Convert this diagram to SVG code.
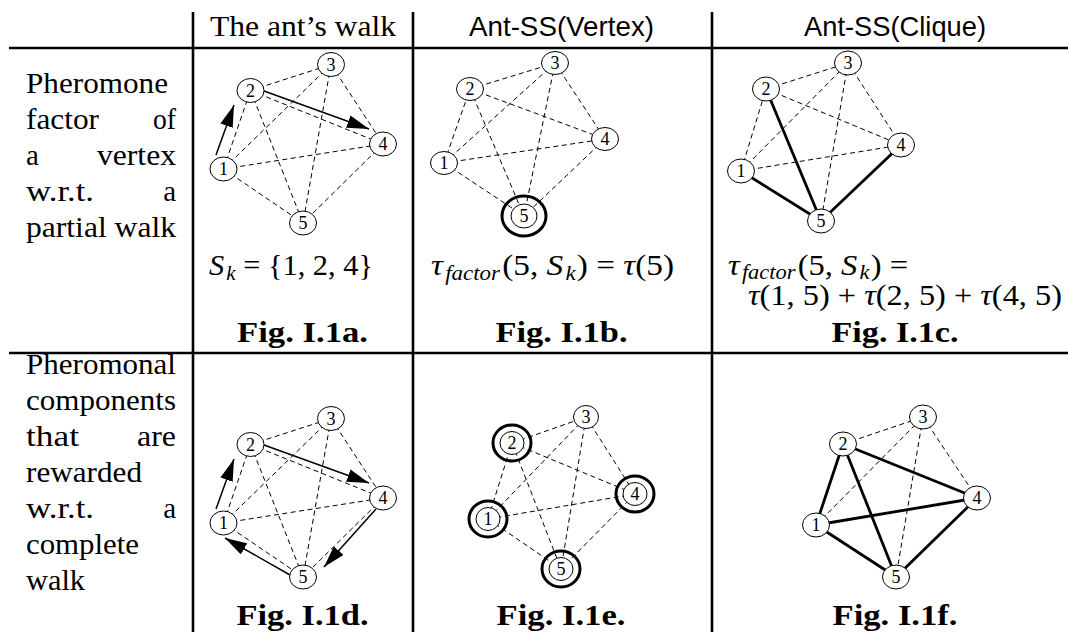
<svg xmlns="http://www.w3.org/2000/svg" width="1068" height="632" viewBox="0 0 1068 632">
<defs>
<style>
.rule{stroke:#000;stroke-width:2.6;fill:none}
.d{stroke:#000;stroke-width:1;stroke-dasharray:5 3.5;fill:none}
.t{stroke:#000;stroke-width:2.8;fill:none}
.a{stroke:#000;stroke-width:1.5;fill:none;marker-end:url(#ah)}
.node ellipse{fill:#fff;stroke:#000;stroke-width:1}
.node ellipse.ring{fill:none;stroke:#000;stroke-width:3}
.node text{font-family:"Liberation Serif","DejaVu Serif",serif;font-size:18px;text-anchor:middle}
.txt{font-family:"Liberation Serif","DejaVu Serif",serif;font-size:29px}
.end{text-anchor:end}
.mid{text-anchor:middle}
.sans{font-family:"Liberation Sans",Arial,sans-serif;font-size:28px;text-anchor:middle}
.fig{font-family:"Liberation Serif","DejaVu Serif",serif;font-size:30px;font-weight:bold;text-anchor:middle}
.i{font-style:italic}
.sub{font-size:20px}
</style>
<marker id="ah" markerWidth="22" markerHeight="13" refX="22" refY="6.5" orient="auto" markerUnits="userSpaceOnUse">
<path d="M0,0 L22,6.5 L0,13 Z" fill="#000"/>
</marker>
</defs>
<rect width="1068" height="632" fill="#fff"/>

<g id="table">
<line class="rule" x1="9" y1="48" x2="1068" y2="48"/>
<line class="rule" x1="9" y1="353" x2="1068" y2="353"/>
<line class="rule" x1="193" y1="12" x2="193" y2="632"/>
<line class="rule" x1="413" y1="12" x2="413" y2="632"/>
<line class="rule" x1="712" y1="12" x2="712" y2="632"/>
</g>

<g id="headers">
<text class="txt mid" x="303" y="36" textLength="186" lengthAdjust="spacingAndGlyphs">The ant’s walk</text>
<text class="sans" x="561.5" y="36" textLength="185" lengthAdjust="spacingAndGlyphs">Ant-SS(Vertex)</text>
<text class="sans" x="895" y="36" textLength="182" lengthAdjust="spacingAndGlyphs">Ant-SS(Clique)</text>
</g>

<g id="row1-label" class="txt">
<text x="26" y="93" textLength="142" lengthAdjust="spacingAndGlyphs">Pheromone</text>
<text x="26" y="129" textLength="73" lengthAdjust="spacingAndGlyphs">factor</text>
<text class="end" x="176" y="129" textLength="23" lengthAdjust="spacingAndGlyphs">of</text>
<text x="26" y="165">a</text>
<text class="end" x="176" y="165" textLength="79" lengthAdjust="spacingAndGlyphs">vertex</text>
<text x="26" y="201" textLength="68" lengthAdjust="spacingAndGlyphs">w.r.t.</text>
<text class="end" x="176" y="201">a</text>
<text x="26" y="237" textLength="150" lengthAdjust="spacingAndGlyphs">partial walk</text>
</g>

<g id="row2-label" class="txt">
<text x="26" y="374" textLength="150" lengthAdjust="spacingAndGlyphs">Pheromonal</text>
<text x="26" y="410" textLength="150" lengthAdjust="spacingAndGlyphs">components</text>
<text x="26" y="446" textLength="53" lengthAdjust="spacingAndGlyphs">that</text>
<text class="end" x="176" y="446" textLength="39" lengthAdjust="spacingAndGlyphs">are</text>
<text x="26" y="482" textLength="116" lengthAdjust="spacingAndGlyphs">rewarded</text>
<text x="26" y="518" textLength="68" lengthAdjust="spacingAndGlyphs">w.r.t.</text>
<text class="end" x="176" y="518">a</text>
<text x="26" y="554" textLength="113" lengthAdjust="spacingAndGlyphs">complete</text>
<text x="26" y="590" textLength="59" lengthAdjust="spacingAndGlyphs">walk</text>
</g>

<g id="formulas" class="txt">
<text x="209" y="275" textLength="164" lengthAdjust="spacingAndGlyphs"><tspan class="i">S</tspan><tspan class="i sub" dx="2" dy="5">k</tspan><tspan dy="-5"> = {1, 2, 4}</tspan></text>
<text x="431" y="275" textLength="243" lengthAdjust="spacingAndGlyphs"><tspan class="i">τ</tspan><tspan class="i sub" dx="2" dy="5">factor</tspan><tspan dx="2" dy="-5">(5, </tspan><tspan class="i">S</tspan><tspan class="i sub" dx="2" dy="5">k</tspan><tspan dx="1" dy="-5">) = </tspan><tspan class="i">τ</tspan><tspan>(5)</tspan></text>
<text x="728" y="275" textLength="180" lengthAdjust="spacingAndGlyphs"><tspan class="i">τ</tspan><tspan class="i sub" dx="2" dy="4">factor</tspan><tspan dx="2" dy="-4">(5, </tspan><tspan class="i">S</tspan><tspan class="i sub" dx="2" dy="4">k</tspan><tspan dx="1" dy="-4">) =</tspan></text>
<text x="748" y="305" textLength="314" lengthAdjust="spacingAndGlyphs"><tspan class="i">τ</tspan><tspan>(1, 5) + </tspan><tspan class="i">τ</tspan><tspan>(2, 5) + </tspan><tspan class="i">τ</tspan><tspan>(4, 5)</tspan></text>
</g>

<g id="captions">
<text class="fig" x="302.5" y="342" textLength="131" lengthAdjust="spacingAndGlyphs">Fig. I.1a.</text>
<text class="fig" x="561.5" y="342" textLength="132" lengthAdjust="spacingAndGlyphs">Fig. I.1b.</text>
<text class="fig" x="895" y="342" textLength="127" lengthAdjust="spacingAndGlyphs">Fig. I.1c.</text>
<text class="fig" x="302.5" y="625" textLength="132" lengthAdjust="spacingAndGlyphs">Fig. I.1d.</text>
<text class="fig" x="561" y="625" textLength="129" lengthAdjust="spacingAndGlyphs">Fig. I.1e.</text>
<text class="fig" x="895" y="625" textLength="125" lengthAdjust="spacingAndGlyphs">Fig. I.1f.</text>
</g>

<!-- Graph a -->
<g id="graph-a">
<g id="a-edges">
<line class="d" x1="223.5" y1="169" x2="250.5" y2="90.5"/>
<line class="d" x1="223.5" y1="169" x2="331" y2="64.5"/>
<line class="d" x1="223.5" y1="169" x2="383" y2="144"/>
<line class="d" x1="223.5" y1="169" x2="303" y2="223"/>
<line class="d" x1="250.5" y1="90.5" x2="331" y2="64.5"/>
<line class="d" x1="250.5" y1="90.5" x2="383" y2="144"/>
<line class="d" x1="250.5" y1="90.5" x2="303" y2="223"/>
<line class="d" x1="331" y1="64.5" x2="383" y2="144"/>
<line class="d" x1="331" y1="64.5" x2="303" y2="223"/>
<line class="d" x1="383" y1="144" x2="303" y2="223"/>
<line class="a" x1="216" y1="155" x2="234" y2="105"/>
<line class="a" x1="264" y1="91" x2="369" y2="129"/>
</g>
<g id="a-n1" class="node"><ellipse cx="223.5" cy="169" rx="13.5" ry="12"/><text x="223.5" y="175">1</text></g>
<g id="a-n2" class="node"><ellipse cx="250.5" cy="90.5" rx="13.5" ry="12"/><text x="250.5" y="96.5">2</text></g>
<g id="a-n3" class="node"><ellipse cx="331" cy="64.5" rx="13.5" ry="12"/><text x="331" y="70.5">3</text></g>
<g id="a-n4" class="node"><ellipse cx="383" cy="144" rx="13.5" ry="12"/><text x="383" y="150">4</text></g>
<g id="a-n5" class="node"><ellipse cx="303" cy="223" rx="13.5" ry="12"/><text x="303" y="229">5</text></g>
</g>

<!-- Graph b -->
<g id="graph-b">
<g id="b-edges">
<line class="d" x1="444" y1="163" x2="470" y2="89"/>
<line class="d" x1="444" y1="163" x2="555" y2="63"/>
<line class="d" x1="444" y1="163" x2="605" y2="139"/>
<line class="d" x1="444" y1="163" x2="524" y2="216"/>
<line class="d" x1="470" y1="89" x2="555" y2="63"/>
<line class="d" x1="470" y1="89" x2="605" y2="139"/>
<line class="d" x1="470" y1="89" x2="524" y2="216"/>
<line class="d" x1="555" y1="63" x2="605" y2="139"/>
<line class="d" x1="555" y1="63" x2="524" y2="216"/>
<line class="d" x1="605" y1="139" x2="524" y2="216"/>
</g>
<g id="b-n1" class="node"><ellipse cx="444" cy="163" rx="13.5" ry="11.5"/><text x="444" y="169">1</text></g>
<g id="b-n2" class="node"><ellipse cx="470" cy="89" rx="13.5" ry="11.5"/><text x="470" y="95">2</text></g>
<g id="b-n3" class="node"><ellipse cx="555" cy="63" rx="13.5" ry="11.5"/><text x="555" y="69">3</text></g>
<g id="b-n4" class="node"><ellipse cx="605" cy="139" rx="13.5" ry="11.5"/><text x="605" y="145">4</text></g>
<g id="b-n5" class="node"><ellipse class="ring" cx="524" cy="216" rx="22" ry="20"/><ellipse cx="524" cy="216" rx="13" ry="12"/><text x="524" y="222">5</text></g>
</g>

<!-- Graph c -->
<g id="graph-c">
<g id="c-edges">
<line class="d" x1="741" y1="171" x2="766" y2="89"/>
<line class="d" x1="741" y1="171" x2="848" y2="63"/>
<line class="d" x1="741" y1="171" x2="901" y2="145"/>
<line class="t" x1="741" y1="171" x2="821" y2="221"/>
<line class="d" x1="766" y1="89" x2="848" y2="63"/>
<line class="d" x1="766" y1="89" x2="901" y2="145"/>
<line class="t" x1="766" y1="89" x2="821" y2="221"/>
<line class="d" x1="848" y1="63" x2="901" y2="145"/>
<line class="d" x1="848" y1="63" x2="821" y2="221"/>
<line class="t" x1="901" y1="145" x2="821" y2="221"/>
</g>
<g id="c-n1" class="node"><ellipse cx="741" cy="171" rx="13.5" ry="12"/><text x="741" y="177">1</text></g>
<g id="c-n2" class="node"><ellipse cx="766" cy="89" rx="13.5" ry="12"/><text x="766" y="95">2</text></g>
<g id="c-n3" class="node"><ellipse cx="848" cy="63" rx="13.5" ry="12"/><text x="848" y="69">3</text></g>
<g id="c-n4" class="node"><ellipse cx="901" cy="145" rx="13.5" ry="12"/><text x="901" y="151">4</text></g>
<g id="c-n5" class="node"><ellipse cx="821" cy="221" rx="13.5" ry="12"/><text x="821" y="227">5</text></g>
</g>

<!-- Graph d -->
<g id="graph-d">
<g id="d-edges">
<line class="d" x1="223.5" y1="523" x2="250.5" y2="444.5"/>
<line class="d" x1="223.5" y1="523" x2="331" y2="418.5"/>
<line class="d" x1="223.5" y1="523" x2="383" y2="498"/>
<line class="d" x1="223.5" y1="523" x2="303" y2="577"/>
<line class="d" x1="250.5" y1="444.5" x2="331" y2="418.5"/>
<line class="d" x1="250.5" y1="444.5" x2="383" y2="498"/>
<line class="d" x1="250.5" y1="444.5" x2="303" y2="577"/>
<line class="d" x1="331" y1="418.5" x2="383" y2="498"/>
<line class="d" x1="331" y1="418.5" x2="303" y2="577"/>
<line class="d" x1="383" y1="498" x2="303" y2="577"/>
<line class="a" x1="216" y1="509" x2="234" y2="459"/>
<line class="a" x1="264" y1="445" x2="369" y2="483"/>
<line class="a" x1="376" y1="509" x2="324" y2="567"/>
<line class="a" x1="290" y1="575" x2="225" y2="538"/>
</g>
<g id="d-n1" class="node"><ellipse cx="223.5" cy="523" rx="13.5" ry="12"/><text x="223.5" y="529">1</text></g>
<g id="d-n2" class="node"><ellipse cx="250.5" cy="444.5" rx="13.5" ry="12"/><text x="250.5" y="450.5">2</text></g>
<g id="d-n3" class="node"><ellipse cx="331" cy="418.5" rx="13.5" ry="12"/><text x="331" y="424.5">3</text></g>
<g id="d-n4" class="node"><ellipse cx="383" cy="498" rx="13.5" ry="12"/><text x="383" y="504">4</text></g>
<g id="d-n5" class="node"><ellipse cx="303" cy="577" rx="13.5" ry="12"/><text x="303" y="583">5</text></g>
</g>

<!-- Graph e -->
<g id="graph-e">
<g id="e-edges">
<line class="d" x1="488" y1="519" x2="512" y2="443"/>
<line class="d" x1="488" y1="519" x2="586" y2="417"/>
<line class="d" x1="488" y1="519" x2="635" y2="494"/>
<line class="d" x1="488" y1="519" x2="561" y2="569"/>
<line class="d" x1="512" y1="443" x2="586" y2="417"/>
<line class="d" x1="512" y1="443" x2="635" y2="494"/>
<line class="d" x1="512" y1="443" x2="561" y2="569"/>
<line class="d" x1="586" y1="417" x2="635" y2="494"/>
<line class="d" x1="586" y1="417" x2="561" y2="569"/>
<line class="d" x1="635" y1="494" x2="561" y2="569"/>
</g>
<g id="e-n1" class="node"><ellipse class="ring" cx="488" cy="519" rx="19" ry="18"/><ellipse cx="488" cy="519" rx="12" ry="11.5"/><text x="488" y="525">1</text></g>
<g id="e-n2" class="node"><ellipse class="ring" cx="512" cy="443" rx="19" ry="18"/><ellipse cx="512" cy="443" rx="12" ry="11.5"/><text x="512" y="449">2</text></g>
<g id="e-n3" class="node"><ellipse cx="586" cy="417" rx="12.5" ry="11.5"/><text x="586" y="423">3</text></g>
<g id="e-n4" class="node"><ellipse class="ring" cx="635" cy="494" rx="19" ry="18"/><ellipse cx="635" cy="494" rx="12" ry="11.5"/><text x="635" y="500">4</text></g>
<g id="e-n5" class="node"><ellipse class="ring" cx="561" cy="569" rx="19" ry="18"/><ellipse cx="561" cy="569" rx="12" ry="11.5"/><text x="561" y="575">5</text></g>
</g>

<!-- Graph f -->
<g id="graph-f">
<g id="f-edges">
<line class="t" x1="816" y1="525" x2="843" y2="444"/>
<line class="d" x1="816" y1="525" x2="923" y2="417"/>
<line class="t" x1="816" y1="525" x2="977" y2="498"/>
<line class="t" x1="816" y1="525" x2="896" y2="577"/>
<line class="d" x1="843" y1="444" x2="923" y2="417"/>
<line class="t" x1="843" y1="444" x2="977" y2="498"/>
<line class="t" x1="843" y1="444" x2="896" y2="577"/>
<line class="d" x1="923" y1="417" x2="977" y2="498"/>
<line class="d" x1="923" y1="417" x2="896" y2="577"/>
<line class="t" x1="977" y1="498" x2="896" y2="577"/>
</g>
<g id="f-n1" class="node"><ellipse cx="816" cy="525" rx="13.5" ry="12"/><text x="816" y="531">1</text></g>
<g id="f-n2" class="node"><ellipse cx="843" cy="444" rx="13.5" ry="12"/><text x="843" y="450">2</text></g>
<g id="f-n3" class="node"><ellipse cx="923" cy="417" rx="13.5" ry="12"/><text x="923" y="423">3</text></g>
<g id="f-n4" class="node"><ellipse cx="977" cy="498" rx="13.5" ry="12"/><text x="977" y="504">4</text></g>
<g id="f-n5" class="node"><ellipse cx="896" cy="577" rx="13.5" ry="12"/><text x="896" y="583">5</text></g>
</g>
</svg>
